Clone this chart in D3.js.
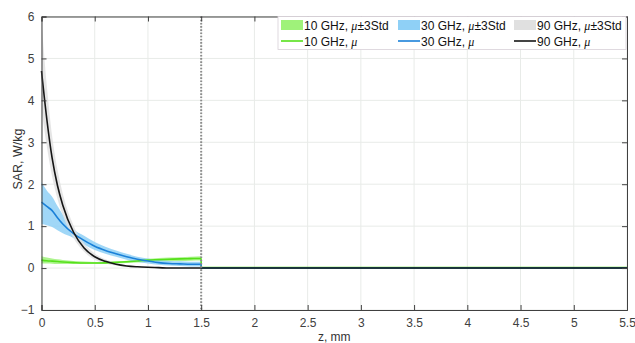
<!DOCTYPE html>
<html>
<head>
<meta charset="utf-8">
<title>SAR vs depth</title>
<script src="https://cdn.jsdelivr.net/npm/d3@7"></script>
<style>
  body { margin: 0; background: #fff; }
  text { font-family: "Liberation Sans", Arial, sans-serif; }
</style>
</head>
<body>
<script>
// depth samples (mm)
var z = [0, 0.05, 0.1, 0.15, 0.2, 0.3, 0.4, 0.5, 0.6, 0.7, 0.8, 0.9, 1.0, 1.1, 1.2, 1.3, 1.4, 1.5, 1.5001, 2, 3, 4, 5, 5.5];

// 10 GHz
var mu10 = [0.19, 0.175, 0.165, 0.155, 0.145, 0.13, 0.12, 0.12, 0.125, 0.135, 0.15, 0.17, 0.19, 0.2, 0.21, 0.22, 0.225, 0.23, 0.01, 0.01, 0.01, 0.01, 0.01, 0.01];
var lo10 = [0.11, 0.11, 0.105, 0.1, 0.1, 0.1, 0.1, 0.1, 0.105, 0.11, 0.12, 0.13, 0.15, 0.16, 0.17, 0.17, 0.175, 0.18, 0.0, 0.0, 0.0, 0.0, 0.0, 0.0];
var hi10 = [0.28, 0.25, 0.23, 0.21, 0.195, 0.17, 0.155, 0.145, 0.145, 0.155, 0.175, 0.2, 0.22, 0.24, 0.25, 0.26, 0.27, 0.28, 0.02, 0.02, 0.02, 0.02, 0.02, 0.02];

// 30 GHz
var mu30 = [1.57, 1.47, 1.37, 1.2, 1.05, 0.82, 0.66, 0.52, 0.42, 0.34, 0.27, 0.21, 0.17, 0.13, 0.11, 0.1, 0.09, 0.09, 0.0, 0.0, 0.0, 0.0, 0.0, 0.0];
var lo30 = [1.05, 1.02, 0.98, 0.9, 0.83, 0.72, 0.56, 0.43, 0.34, 0.27, 0.2, 0.15, 0.11, 0.08, 0.06, 0.05, 0.04, 0.04, 0.0, 0.0, 0.0, 0.0, 0.0, 0.0];
var hi30 = [2.05, 1.85, 1.7, 1.48, 1.28, 0.93, 0.77, 0.62, 0.51, 0.42, 0.34, 0.27, 0.23, 0.19, 0.17, 0.16, 0.15, 0.15, 0.0, 0.0, 0.0, 0.0, 0.0, 0.0];

// 90 GHz
var mu90 = [4.7, 3.55, 2.62, 1.97, 1.5, 0.86, 0.48, 0.27, 0.16, 0.09, 0.05, 0.03, 0.018, 0.01, 0.0, 0.0, 0.0, 0.0, 0.0, 0.0, 0.0, 0.0, 0.0, 0.0];
var lo90 = [3.8, 2.9, 2.18, 1.65, 1.26, 0.72, 0.39, 0.2, 0.11, 0.06, 0.03, 0.02, 0.01, 0.0, 0.0, 0.0, 0.0, 0.0, 0.0, 0.0, 0.0, 0.0, 0.0, 0.0];
var hi90 = [5.9, 4.35, 3.15, 2.35, 1.77, 1.02, 0.59, 0.35, 0.21, 0.12, 0.07, 0.045, 0.025, 0.015, 0.01, 0.0, 0.0, 0.0, 0.0, 0.0, 0.0, 0.0, 0.0, 0.0];

var xTicks = [0, 0.5, 1, 1.5, 2, 2.5, 3, 3.5, 4, 4.5, 5, 5.5];
var yTicks = [-1, 0, 1, 2, 3, 4, 5, 6];
var boundary = 1.5;

var series = [
  {name: "10 GHz", mu: mu10, lo: lo10, hi: hi10, band: "#9ff27a", line: "#55e01a"},
  {name: "30 GHz", mu: mu30, lo: lo30, hi: hi30, band: "#8fd0f6", line: "#1a80d8"},
  {name: "90 GHz", mu: mu90, lo: lo90, hi: hi90, band: "#e0e0e0", line: "#151515"}
];

var W = 635, H = 343;
var m = {left: 41.5, right: 8, top: 16.5, bottom: 33};

var svg = d3.select("body").append("svg").attr("width", W).attr("height", H);

var x = d3.scaleLinear().domain([0, 5.5]).range([m.left, W - m.right]);
var y = d3.scaleLinear().domain([-1, 6]).range([H - m.bottom, m.top]);

// grid
svg.append("g").selectAll("line").data(xTicks).enter().append("line")
  .attr("x1", d => x(d)).attr("x2", d => x(d))
  .attr("y1", y(-1)).attr("y2", y(6))
  .attr("stroke", "#e8ebe8").attr("stroke-width", 1);
svg.append("g").selectAll("line").data(yTicks).enter().append("line")
  .attr("x1", x(0)).attr("x2", x(5.5))
  .attr("y1", d => y(d)).attr("y2", d => y(d))
  .attr("stroke", "#e8ebe8").attr("stroke-width", 1);

var area = d3.area().curve(d3.curveMonotoneX).x((d, i) => x(z[i])).y0(d => y(d[0])).y1(d => y(d[1]));
var line = d3.line().curve(d3.curveMonotoneX).x((d, i) => x(z[i])).y(d => y(d));

series.forEach(function(s) {
  svg.append("path")
    .datum(s.lo.map((v, i) => [v, s.hi[i]]))
    .attr("d", area)
    .attr("fill", s.band).attr("fill-opacity", 0.85);
});
series.forEach(function(s) {
  svg.append("path")
    .datum(s.mu)
    .attr("d", line)
    .attr("fill", "none").attr("stroke", s.line).attr("stroke-width", 1.6);
});

// dotted boundary
svg.append("line")
  .attr("x1", x(boundary)).attr("x2", x(boundary))
  .attr("y1", y(6)).attr("y2", y(-1))
  .attr("stroke", "#8c8c8c").attr("stroke-width", 2)
  .attr("stroke-dasharray", "1.6,1.6");

// axes
var xAxis = d3.axisBottom(x).tickValues(xTicks).tickSize(-5).tickPadding(8).tickFormat(d3.format("~g"));
var yAxis = d3.axisLeft(y).tickValues(yTicks).tickSize(-5).tickPadding(7).tickFormat(d3.format("~g"));

var gx = svg.append("g").attr("transform", "translate(0," + y(-1) + ")").call(xAxis);
var gy = svg.append("g").attr("transform", "translate(" + x(0) + ",0)").call(yAxis);
var gxt = svg.append("g").attr("transform", "translate(0," + y(6) + ")")
  .call(d3.axisTop(x).tickValues(xTicks).tickSize(-5).tickFormat(""));
var gyr = svg.append("g").attr("transform", "translate(" + x(5.5) + ",0)")
  .call(d3.axisRight(y).tickValues(yTicks).tickSize(-5).tickFormat(""));

[gx, gy, gxt, gyr].forEach(function(g) {
  g.selectAll("path").attr("stroke", "#404040");
  g.selectAll("line").attr("stroke", "#404040");
  g.selectAll("text").attr("fill", "#404040").style("font-size", "12px");
});

svg.append("text").attr("x", (x(0) + x(5.5)) / 2).attr("y", H - 2)
  .attr("text-anchor", "middle").style("font-size", "12px").attr("fill", "#333")
  .text("z, mm");
svg.append("text")
  .attr("transform", "translate(22," + (y(2.6)) + ") rotate(-90)")
  .attr("text-anchor", "middle").style("font-size", "12.5px").attr("fill", "#333")
  .text("SAR, W/kg");

// legend
var lg = svg.append("g");
lg.append("rect").attr("x", 278).attr("y", 16.5).attr("width", 348).attr("height", 33)
  .attr("fill", "#fff").attr("stroke", "#d8d0d8").attr("stroke-width", 0.8);
var colX = [281, 398, 514];
series.forEach(function(s, i) {
  lg.append("rect").attr("x", colX[i]).attr("y", 20).attr("width", 22).attr("height", 10).attr("fill", s.band);
  lg.append("line").attr("x1", colX[i]).attr("x2", colX[i] + 22).attr("y1", 41).attr("y2", 41)
    .attr("stroke", s.line).attr("stroke-width", 1.6);
  var t1 = lg.append("text").attr("x", colX[i] + 23).attr("y", 29.5).style("font-size", "12px").attr("fill", "#111");
  t1.append("tspan").text(s.name + ", ");
  t1.append("tspan").style("font-style", "italic").attr("font-family", "Liberation Serif, serif").text("\u03bc");
  t1.append("tspan").text("\u00b13Std");
  var t2 = lg.append("text").attr("x", colX[i] + 23).attr("y", 45.5).style("font-size", "12px").attr("fill", "#111");
  t2.append("tspan").text(s.name + ", ");
  t2.append("tspan").style("font-style", "italic").attr("font-family", "Liberation Serif, serif").text("\u03bc");
});
</script>
</body>
</html>
